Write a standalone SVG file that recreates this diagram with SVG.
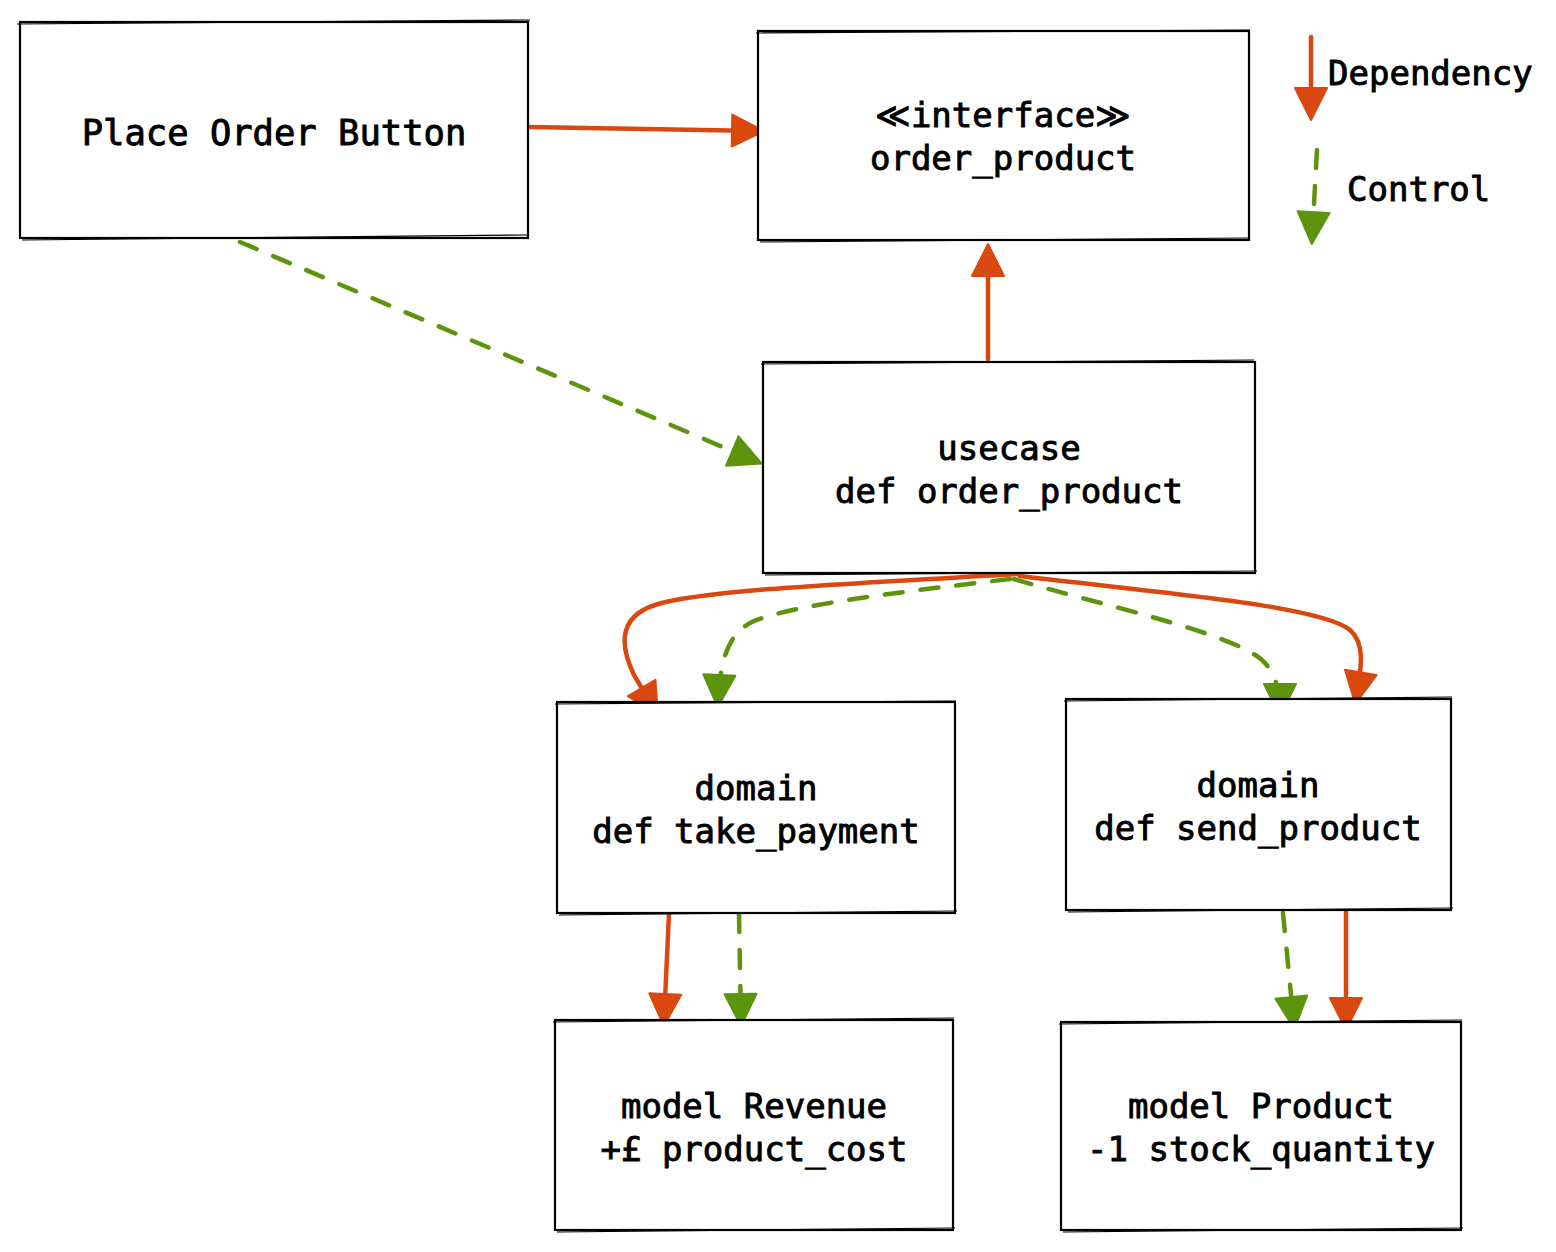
<svg xmlns="http://www.w3.org/2000/svg" width="1556" height="1252" viewBox="0 0 1556 1252">
<style>
.box{fill:#ffffff;stroke:#000000;stroke-width:2.2}
.box2{fill:none;stroke:#000000;stroke-width:1.2}
.t{font-family:"DejaVu Sans Mono","Liberation Mono",monospace;font-size:34px;font-weight:normal;fill:#000000;stroke:#000000;stroke-width:0.9;text-anchor:middle}
.tl{font-family:"DejaVu Sans Mono","Liberation Mono",monospace;font-size:34px;font-weight:normal;fill:#000000;stroke:#000000;stroke-width:0.9}
.dep{fill:none;stroke:#d9480f;stroke-width:4.5;stroke-linecap:round;stroke-linejoin:round}
.ctl{fill:none;stroke:#5c940d;stroke-width:4.5;stroke-linecap:round;stroke-dasharray:18 18}
</style>
<defs>
<marker id="ar" markerUnits="userSpaceOnUse" markerWidth="36" markerHeight="36" viewBox="0 0 36 36" refX="30" refY="18" orient="auto">
<path d="M2,2 L34,18 L2,34 Z" fill="#d9480f" stroke="#d9480f" stroke-width="2" stroke-linejoin="round"/>
</marker>
<marker id="ag" markerUnits="userSpaceOnUse" markerWidth="36" markerHeight="36" viewBox="0 0 36 36" refX="30" refY="18" orient="auto">
<path d="M2,2 L34,18 L2,34 Z" fill="#5c940d" stroke="#5c940d" stroke-width="2" stroke-linejoin="round"/>
</marker>
</defs>
<rect width="1556" height="1252" fill="#ffffff"/>

<g id="connectors">
<path class="dep" d="M529,127 L760,131" marker-end="url(#ar)"/>
<path class="ctl" d="M240,242 L758,462" marker-end="url(#ag)"/>
<path class="dep" d="M988,359 L988,248" marker-end="url(#ar)"/>
<path class="dep" d="M1018,574 C860,583 700,590 655,605 C615,618 622,650 634,675 L656,712" marker-end="url(#ar)"/>
<path class="ctl" d="M1010,579 C900,592 790,605 752,622 C728,634 720,660 718,703" marker-end="url(#ag)"/>
<path class="ctl" d="M1014,579 C1100,605 1230,632 1262,660 C1275,672 1280,690 1280,712" marker-end="url(#ag)"/>
<path class="dep" d="M1020,576 C1150,592 1320,605 1350,630 C1365,643 1362,665 1356,700" marker-end="url(#ar)"/>
<path class="dep" d="M669,913 L664,1022" marker-end="url(#ar)"/>
<path class="ctl" d="M739,914 L741,1022" marker-end="url(#ag)"/>
<path class="ctl" d="M1283,913 L1294,1025" marker-end="url(#ag)"/>
<path class="dep" d="M1346,912 L1346,1026" marker-end="url(#ar)"/>
</g>

<g id="node-place-order">
<rect class="box" x="20" y="22" width="508" height="216"/>
<path class="box2" d="M17,24 L530,20 M22,240 L527,235"/>
<text class="t" x="274" y="145" style="font-size:35.5px">Place Order Button</text>
</g>

<g id="node-interface">
<rect class="box" x="758" y="31" width="491" height="209"/>
<path class="box2" d="M756,33 L1250,30 M760,242 L1248,238"/>
<text class="t" x="1003" y="127">≪interface≫</text>
<text class="t" x="1003" y="170">order_product</text>
</g>

<g id="node-usecase">
<rect class="box" x="763" y="362" width="492" height="211"/>
<path class="box2" d="M761,364 L1254,360 M765,575 L1257,571"/>
<text class="t" x="1009" y="460">usecase</text>
<text class="t" x="1009" y="503">def order_product</text>
</g>

<g id="node-take-payment">
<rect class="box" x="557" y="702" width="398" height="211"/>
<path class="box2" d="M555,704 L956,701 M559,915 L957,911"/>
<text class="t" x="756" y="800">domain</text>
<text class="t" x="756" y="843">def take_payment</text>
</g>

<g id="node-send-product">
<rect class="box" x="1066" y="699" width="385" height="211"/>
<path class="box2" d="M1064,701 L1452,697 M1068,912 L1453,908"/>
<text class="t" x="1258" y="797">domain</text>
<text class="t" x="1258" y="840">def send_product</text>
</g>

<g id="node-revenue">
<rect class="box" x="555" y="1020" width="398" height="210"/>
<path class="box2" d="M553,1022 L954,1018 M557,1232 L955,1228"/>
<text class="t" x="754" y="1118">model Revenue</text>
<text class="t" x="754" y="1161">+£ product_cost</text>
</g>

<g id="node-product">
<rect class="box" x="1061" y="1022" width="400" height="208"/>
<path class="box2" d="M1059,1024 L1462,1020 M1063,1232 L1463,1228"/>
<text class="t" x="1261" y="1118">model Product</text>
<text class="t" x="1261" y="1161">-1 stock_quantity</text>
</g>

<g id="legend">
<path class="dep" d="M1311,37 L1311,116" marker-end="url(#ar)"/>
<text class="tl" x="1328" y="85">Dependency</text>
<path class="ctl" d="M1317,150 L1312,240" marker-end="url(#ag)"/>
<text class="tl" x="1347" y="201">Control</text>
</g>
</svg>
